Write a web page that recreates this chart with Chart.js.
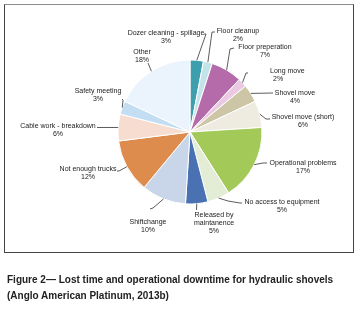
<!DOCTYPE html>
<html>
<head>
<meta charset="utf-8">
<script src="https://cdn.jsdelivr.net/npm/chart.js@4"></script>
<style>
  body { margin: 0; background: #fff; width: 363px; height: 309px; overflow: hidden; position: relative; }
  #frame { position: absolute; left: 4px; top: 4px; width: 350px; height: 249px; box-sizing: border-box;
           border: 1.5px solid #444; border-top-color: #8c8c8c; }
  #c { position: absolute; left: 0; top: 0; }
  #caption { position: absolute; left: 7px; top: 272px; font: bold 10px "Liberation Sans", Arial, sans-serif;
             line-height: 16px; color: #222; white-space: nowrap; }
</style>
</head>
<body>
<div id="frame"></div>
<canvas id="c" width="363" height="309"></canvas>
<div id="caption">Figure 2— Lost time and operational downtime for hydraulic shovels<br>(Anglo American Platinum, 2013b)</div>
<script>
// categories, clockwise from 12 o'clock
var causes = ['Dozer cleaning - spillage', 'Floor cleanup', 'Floor preperation', 'Long move',
              'Shovel move', 'Shovel move (short)', 'Operational problems', 'No access to equipment',
              'Released by maintanence', 'Shiftchange', 'Not enough trucks', 'Cable work - breakdown',
              'Safety meeting', 'Other'];
var shares = [3, 2, 7, 2, 4, 6, 17, 5, 5, 10, 12, 6, 3, 18];
var colors = ['#3d9fae', '#c3e3ea', '#b56ba9', '#ebc9e2', '#cdc6a6', '#eeebe1', '#a3c958',
              '#e3edd6', '#4a72b3', '#c9d6ea', '#de8b4e', '#f6ddd0', '#c3def2', '#ebf3fc'];

// label text lines (split as in the picture)
var labelLines = [
    ['Dozer cleaning - spillage'], ['Floor cleanup'], ['Floor preperation'], ['Long move'],
    ['Shovel move'], ['Shovel move (short)'], ['Operational problems'], ['No access to equipment'],
    ['Released by', 'maintanence'], ['Shiftchange'], ['Not enough trucks'], ['Cable work - breakdown'],
    ['Safety meeting'], ['Other']
];

// label placement, offsets from pie centre: text x, first line y, align, leader path after the slice edge
var labelPos = [
    { x: -24, y: -99, al: 'center', path: [[16, -98], [14, -98]] },
    { x: 48, y: -101, al: 'center', path: [[22, -100], [25, -100]] },
    { x: 75, y: -85, al: 'center', path: [[40, -83], [44, -84]] },
    { x: 80, y: -61, al: 'left', path: [[56, -59], [58, -59]] },
    { x: 105, y: -39, al: 'center', path: [[83, -39]] },
    { x: 113, y: -15, al: 'center', path: [[76, -13], [80, -13]] },
    { x: 113, y: 31, al: 'center', path: [[73, 31], [77, 31]] },
    { x: 92, y: 70, al: 'center', path: [[38, 69], [50, 71], [52, 71]] },
    { x: 24, y: 83, al: 'center', path: [[6.5, 78]] },
    { x: -42, y: 90, al: 'center', path: [[-37, 76], [-40, 77]] },
    { x: -102, y: 37, al: 'center', path: [[-71, 39], [-73, 39]] },
    { x: -132, y: -6, al: 'center', path: [[-93, -4.5]] },
    { x: -92, y: -41, al: 'center', path: [[-67, -32], [-68, -33]] },
    { x: -48, y: -80, al: 'center', path: [[-42, -69]] }
];

var pieLabels = {
    id: 'pieLabels',
    afterDraw: function(chart) {
        var ctx = chart.ctx;
        var arcs = chart.getDatasetMeta(0).data;
        ctx.save();
        ctx.strokeStyle = '#333';
        ctx.lineWidth = 0.8;
        ctx.fillStyle = '#222';
        ctx.font = '7px "Liberation Sans", Arial, sans-serif';
        ctx.textBaseline = 'middle';
        arcs.forEach(function(a, i) {
            var p = a.getProps(['x', 'y', 'startAngle', 'endAngle', 'outerRadius'], true);
            var mid = (p.startAngle + p.endAngle) / 2;
            var lp = labelPos[i];
            // leader line
            ctx.beginPath();
            ctx.moveTo(p.x + Math.cos(mid) * p.outerRadius, p.y + Math.sin(mid) * p.outerRadius);
            lp.path.forEach(function(q) { ctx.lineTo(p.x + q[0], p.y + q[1]); });
            ctx.stroke();
            // text
            ctx.textAlign = lp.al;
            var lines = labelLines[i].concat([shares[i] + '%']);
            lines.forEach(function(t, k) {
                var tx = p.x + lp.x + (lp.al === 'left' && k === lines.length - 1 ? 3 : 0);
                ctx.fillText(t, tx, p.y + lp.y + k * 8);
            });
        });
        ctx.restore();
    }
};

new Chart(document.getElementById('c'), {
    type: 'pie',
    data: {
        labels: causes,
        datasets: [{
            data: shares,
            backgroundColor: colors,
            borderColor: '#ffffff',
            borderWidth: 1,
            hoverOffset: 0
        }]
    },
    options: {
        responsive: false,
        animation: false,
        radius: 72,
        layout: { padding: { left: 118, right: 101, top: 60, bottom: 105 } },
        plugins: {
            legend: { display: false },
            tooltip: { enabled: false }
        }
    },
    plugins: [pieLabels]
});
</script>
</body>
</html>
